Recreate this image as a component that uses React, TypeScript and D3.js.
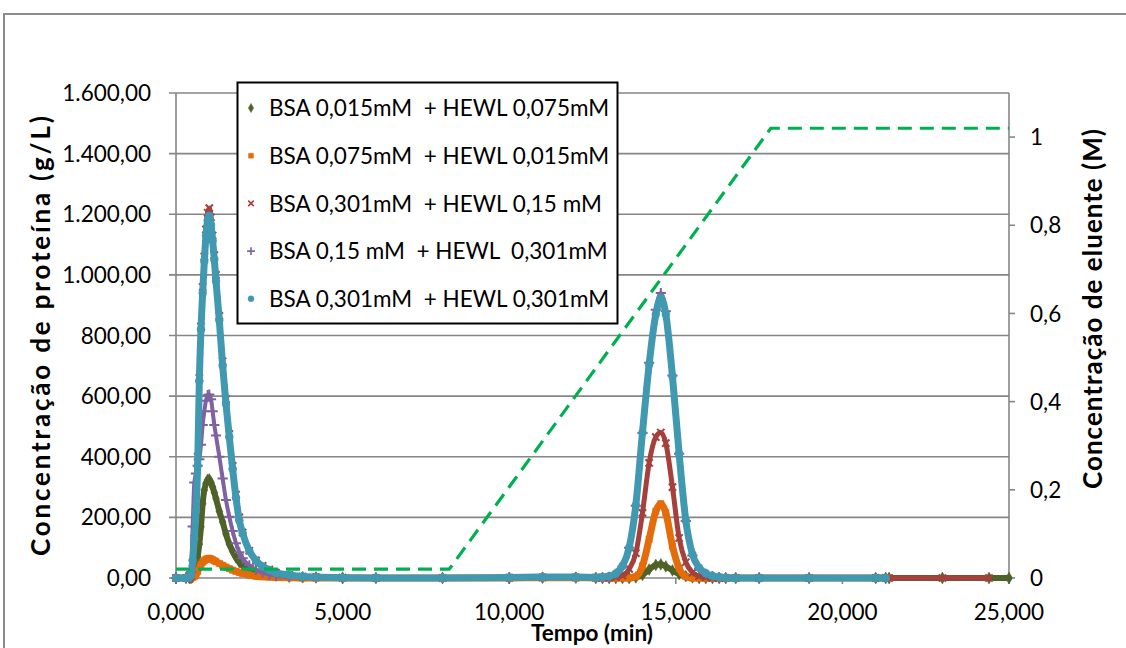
import React from 'react';
import * as d3 from 'd3';

// time grid (min)
const TIME = [
  0, 0.3, 0.4, 0.45, 0.5, 0.55, 0.6, 0.65, 0.7, 0.75,
  0.8, 0.85, 0.9, 0.95, 1.0, 1.05, 1.1, 1.15, 1.2, 1.3,
  1.4, 1.5, 1.6, 1.7, 1.8, 1.9, 2.0, 2.2, 2.4, 2.6,
  2.8, 3.0, 3.4, 3.8, 4.2, 5.0, 6.0, 8.0, 10.0, 11.0,
  12.0, 12.6, 12.8, 13.0, 13.2, 13.4, 13.6, 13.8, 14.0, 14.2,
  14.4, 14.55, 14.7, 14.9, 15.1, 15.3, 15.5, 15.7, 15.9, 16.1,
  16.3, 16.5, 16.8, 17.5, 19.0, 21.0, 21.3, 21.4, 23.0, 24.4,
  25.0,
];

// BSA 0,015mM + HEWL 0,075mM
const GREEN = [
  0, 0, 0, 0, 3, 14, 30, 70, 112, 169,
  245, 290, 312, 324, 325, 315, 300, 282, 262, 220,
  185, 145, 112, 88, 68, 52, 42, 28, 20, 15,
  11, 8, 5, 3, 2, 1, 0, 0, 0, 1,
  1, 0, 0, 0, 0, 0, 0, 2, 10, 28,
  43, 45, 38, 25, 13, 6, 2, 0, 0, 0,
  0, 0, 0, 0, 0, 0, 0, 0, 0, 0,
  0,
];

// BSA 0,075mM + HEWL 0,015mM
const ORANGE = [
  0, 0, 0, 0, 2, 5, 10, 22, 35, 45,
  52, 57, 62, 64, 65, 63, 60, 57, 54, 48,
  42, 36, 31, 26, 22, 18, 15, 10, 6, 4,
  3, 2, 1, 0, 0, 0, 0, 0, 0, 1,
  1, 0, 0, 0, 0, 0, 0, 4, 40, 128,
  220, 245, 215, 105, 32, 5, 0, 0, 0, 0,
  0, 0, 0, 0, 0, 0, 0, 0, null, null,
  null,
];

// BSA 0,301mM + HEWL 0,15 mM
const RED = [
  0, 0, 2, 8, 50, 130, 230, 400, 660, 830,
  960, 1060, 1150, 1205, 1220, 1190, 1130, 1065, 1000, 865,
  715, 590, 475, 370, 275, 200, 150, 90, 58, 40,
  28, 18, 10, 5, 3, 1, 0, 0, 1, 2,
  2, 1, 1, 1, 3, 8, 30, 82, 215, 380,
  465, 480, 445, 300, 132, 52, 18, 6, 2, 0,
  0, 0, 0, 0, 0, 0, 0, 0, 0, 0,
  null,
];

// BSA 0,15 mM + HEWL 0,301mM
const PURPLE = [
  0, 0, 2, 20, 170, 315, 345, 370, 392, 440,
  505, 550, 585, 603, 605, 590, 550, 505, 470, 400,
  328, 257, 202, 155, 115, 85, 65, 42, 27, 18,
  12, 7, 3, 2, 1, 0, 0, 0, 1, 2,
  2, 1, 1, 4, 14, 38, 100, 238, 478, 710,
  885, 940, 880, 668, 410, 188, 74, 31, 14, 6,
  2, 0, 0, 0, 0, 0, null, null, null, null,
  null,
];

// BSA 0,301mM + HEWL 0,301mM
const TEAL = [
  0, 0, 3, 8, 58, 130, 220, 370, 650, 820,
  940, 1045, 1130, 1180, 1195, 1165, 1113, 1050, 980, 850,
  700, 575, 465, 360, 265, 190, 148, 90, 58, 38,
  27, 17, 10, 5, 3, 1, 0, 0, 2, 3,
  3, 2, 3, 6, 15, 40, 100, 240, 480, 705,
  870, 925, 870, 665, 410, 190, 78, 34, 16, 7,
  3, 1, 0, 0, 0, 0, 0, null, null, null,
  null,
];

const SERIES_NAMES = [
  'BSA 0,015mM  + HEWL 0,075mM',
  'BSA 0,075mM  + HEWL 0,015mM',
  'BSA 0,301mM  + HEWL 0,15 mM',
  'BSA 0,15 mM  + HEWL  0,301mM',
  'BSA 0,301mM  + HEWL 0,301mM',
];

const ELUENT_TIME = [0, 8.2, 17.85, 25];
const ELUENT_CONC = [0.02, 0.02, 1.02, 1.02];

const LEFT_TICKS = [0, 200, 400, 600, 800, 1000, 1200, 1400, 1600];
const RIGHT_TICKS = [0, 0.2, 0.4, 0.6, 0.8, 1];
const X_TICKS = [0, 5, 10, 15, 20, 25];

const locale = d3.formatLocale({ decimal: ',', thousands: '.', grouping: [3], currency: ['', ''] });
const fmtLeft = locale.format(',.2f');
const fmtX = locale.format(',.3f');
const fmtRight = locale.format('~g');

const FONT = 'Lato, Carlito, Calibri, sans-serif';
const FS = 22.5;

const STYLES = [
  { color: '#4F6228', lw: 6, sym: d3.symbolDiamond, size: 40, stroke: false },
  { color: '#E46C0A', lw: 7, sym: d3.symbolSquare, size: 40, stroke: false },
  { color: '#A5403C', lw: 5, sym: d3.symbolX, size: 36, stroke: true },
  { color: '#7E62A1', lw: 4, sym: d3.symbolPlus, size: 36, stroke: true },
  { color: '#4099B1', lw: 7, sym: d3.symbolCircle, size: 48, stroke: false },
];

export default function App() {
  const W = 1126, H = 648;
  const x = d3.scaleLinear().domain([0, 25]).range([176, 1009]);
  const yL = d3.scaleLinear().domain([0, 1600]).range([578, 93]);
  const yR = d3.scaleLinear().domain([0, 1.1]).range([578, 93]);

  const data = [GREEN, ORANGE, RED, PURPLE, TEAL];

  const line = d3.line<[number, number | null]>()
    .defined((d) => d[1] !== null)
    .x((d) => x(d[0]))
    .y((d) => yL(d[1] as number))
    .curve(d3.curveMonotoneX);

  const eluentLine = d3.line<number>()
    .x((_, i) => x(ELUENT_TIME[i]))
    .y((d) => yR(d));

  const grid = '#868686';

  return (
    <svg width={W} height={H} style={{ position: 'absolute', left: 0, top: 0, background: '#fff' }} fontFamily={FONT}>
      <rect x={0} y={0} width={W} height={H} fill="#fff" />
      <rect x={4} y={14} width={1300} height={800} fill="#fff" stroke="#8c8c8c" strokeWidth={2} />

      {/* gridlines */}
      {LEFT_TICKS.map((t) => (
        <g key={'g' + t}>
          <line x1={169} x2={1009} y1={yL(t)} y2={yL(t)} stroke={grid} strokeWidth={1.6} />
          <text x={151} y={yL(t)} dy="0.36em" textAnchor="end" fontSize={FS} fill="#000">{fmtLeft(t)}</text>
        </g>
      ))}
      {/* axes */}
      <line x1={176} x2={176} y1={93} y2={584} stroke={grid} strokeWidth={1.6} />
      <line x1={1009} x2={1009} y1={93} y2={584} stroke={grid} strokeWidth={1.6} />
      {X_TICKS.map((t) => (
        <g key={'x' + t}>
          <line x1={x(t)} x2={x(t)} y1={578} y2={584} stroke={grid} strokeWidth={1.6} />
          <text x={x(t)} y={612} dy="0.36em" textAnchor="middle" fontSize={FS} fill="#000">{fmtX(t)}</text>
        </g>
      ))}
      {RIGHT_TICKS.map((t) => (
        <g key={'r' + t}>
          <line x1={1009} x2={1015} y1={yR(t)} y2={yR(t)} stroke={grid} strokeWidth={1.6} />
          <text x={1030} y={yR(t)} dy="0.36em" textAnchor="start" fontSize={FS} fill="#000">{fmtRight(t)}</text>
        </g>
      ))}

      {/* series */}
      {data.map((vals, si) => {
        const st = STYLES[si];
        const pts: [number, number | null][] = TIME.map((t, i) => [t, vals[i]]);
        const sym = d3.symbol().type(st.sym).size(st.size)();
        return (
          <g key={'s' + si}>
            <path d={line(pts) || ''} fill="none" stroke={st.color} strokeWidth={st.lw} strokeLinejoin="round" strokeLinecap="round" />
            {pts.filter((p) => p[1] !== null).map((p, i) => (
              <path key={i} d={sym || ''} transform={`translate(${x(p[0])},${yL(p[1] as number)})`}
                fill={st.stroke ? 'none' : st.color} stroke={st.color} strokeWidth={st.stroke ? 2 : 0.5} />
            ))}
          </g>
        );
      })}

      {/* eluent */}
      <path d={eluentLine(ELUENT_CONC) || ''} fill="none" stroke="#00B050" strokeWidth={3.2} strokeDasharray="14 8" />

      {/* legend */}
      <rect x={237.5} y={82.5} width={380} height={241} fill="#fff" stroke="#000" strokeWidth={2} />
      {SERIES_NAMES.map((n, i) => {
        const st = STYLES[i];
        const cy = 108 + i * 47.7;
        const sym = d3.symbol().type(st.sym).size(st.size * 0.6)();
        return (
          <g key={'l' + i}>
            <path d={sym || ''} transform={`translate(251,${cy})`} fill={st.stroke ? 'none' : st.color} stroke={st.color} strokeWidth={st.stroke ? 1.6 : 0.5} />
            <text x={269} y={cy} dy="0.36em" fontSize={FS} fill="#000" style={{ whiteSpace: 'pre' }}>{n}</text>
          </g>
        );
      })}

      {/* axis titles */}
      <text x={592} y={641} textAnchor="middle" fontSize={FS} fontWeight="bold" fill="#000">Tempo (min)</text>
      <text transform="translate(50,336) rotate(-90)" textAnchor="middle" fontSize={26} fontWeight="bold" fill="#000"
        textLength={440} lengthAdjust="spacing">Concentração de proteína (g/L)</text>
      <text transform="translate(1102,309) rotate(-90)" textAnchor="middle" fontSize={26} fontWeight="bold" fill="#000"
        textLength={360} lengthAdjust="spacing">Concentração de eluente (M)</text>
    </svg>
  );
}
